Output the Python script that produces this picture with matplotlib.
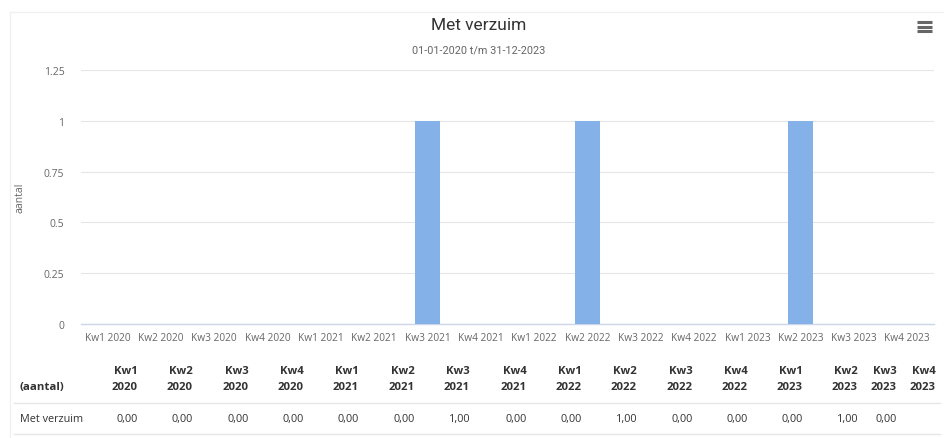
import matplotlib
matplotlib.use("Agg")
import matplotlib.pyplot as plt
from matplotlib.lines import Line2D
import numpy as np

plt.rcParams['font.family'] = ['Open Sans', 'DejaVu Sans']

quarters = ["Kw1", "Kw2", "Kw3", "Kw4"] * 4
years = ["2020"] * 4 + ["2021"] * 4 + ["2022"] * 4 + ["2023"] * 4
categories = [f"{q} {y}" for q, y in zip(quarters, years)]
values = [0, 0, 0, 0, 0, 0, 1, 0, 0, 1, 0, 0, 0, 1, 0, None]
yticks = [0, 0.25, 0.5, 0.75, 1, 1.25]
ytick_labels = ["0", "0.25", "0.5", "0.75", "1", "1.25"]
series_name = "Met verzuim"
title = "Met verzuim"
subtitle = "01-01-2020 t/m 31-12-2023"
ylabel = "aantal"
table_corner = "(aantal)"

W, H = 945, 439
fig = plt.figure(figsize=(W / 100, H / 100), dpi=100)

def fx(px):
    return px / W

def fy(py):
    return 1 - py / H

ax = fig.add_axes([fx(81), fy(325), fx(934) - fx(81), fy(71) - fy(325)])
x = np.arange(len(categories))
bar_vals = [v if v is not None else 0 for v in values]
ax.bar(x, bar_vals, width=0.46, color="#85b1e9", zorder=3)
ax.set_xlim(-0.5, len(categories) - 0.5)
ax.set_ylim(0, 1.25)
ax.set_yticks(yticks)
ax.set_yticklabels(ytick_labels)
ax.set_xticks(x)
ax.set_xticklabels(categories)
ax.grid(axis="y", color="#e6e6e6", linewidth=0.8, zorder=0)
for s in ["top", "right", "left"]:
    ax.spines[s].set_visible(False)
ax.spines["bottom"].set_color("#ccd6eb")
ax.spines["bottom"].set_linewidth(1.0)
ax.tick_params(axis="y", length=0, pad=12, labelsize=7.5, labelcolor="#666666")
ax.tick_params(axis="x", length=0, pad=6, labelsize=7.3, labelcolor="#666666")

# y-axis title
fig.text(fx(20), fy(198), ylabel, rotation=90, ha="center", va="center",
         fontsize=7.5, color="#666666")

# title and subtitle
fig.text(fx(479), fy(25), title, ha="center", va="center", fontsize=12.5, color="#333333",
         family=["Liberation Sans Narrow", "Roboto", "DejaVu Sans"])
fig.text(fx(479), fy(50), subtitle, ha="center", va="center", fontsize=7.8, color="#666666",
         family=["Liberation Sans Narrow", "Roboto", "DejaVu Sans"])

# hamburger menu icon
for yy in (23, 27.5, 32):
    fig.add_artist(Line2D([fx(917), fx(932)], [fy(yy), fy(yy)], color="#666666", linewidth=2.2,
                          solid_capstyle="butt"))

# faint outer frame
fig.add_artist(Line2D([fx(10), fx(945)], [fy(13), fy(13)], color="#f0f0f0", linewidth=1))
fig.add_artist(Line2D([fx(10), fx(10)], [fy(13), fy(439)], color="#f0f0f0", linewidth=1))

# data table
col_right = [138, 193, 249, 304, 359, 415, 470, 527, 582, 637, 693, 748, 803, 858, 897, 936]
fig.text(fx(20), fy(388), table_corner, ha="left", va="center", fontsize=8.2,
         fontweight="bold", color="#333333")
for q, yv, xr in zip(quarters, years, col_right):
    fig.text(fx(xr), fy(372), q, ha="right", va="center", fontsize=8.2, fontweight="bold", color="#333333")
    fig.text(fx(xr), fy(388), yv, ha="right", va="center", fontsize=8.2, fontweight="bold", color="#333333")
fig.add_artist(Line2D([fx(14), fx(940)], [fy(404), fy(404)], color="#e6e6e6", linewidth=1))
fig.text(fx(20), fy(420), series_name, ha="left", va="center", fontsize=7.8, color="#333333")
for v, xr in zip(values, col_right):
    if v is None:
        continue
    fig.text(fx(xr), fy(420), f"{v:.2f}".replace(".", ","), ha="right", va="center",
             fontsize=7.8, color="#333333")
fig.add_artist(Line2D([fx(14), fx(940)], [fy(435), fy(435)], color="#e6e6e6", linewidth=1))

fig.savefig("out.png", dpi=100, facecolor="white")
